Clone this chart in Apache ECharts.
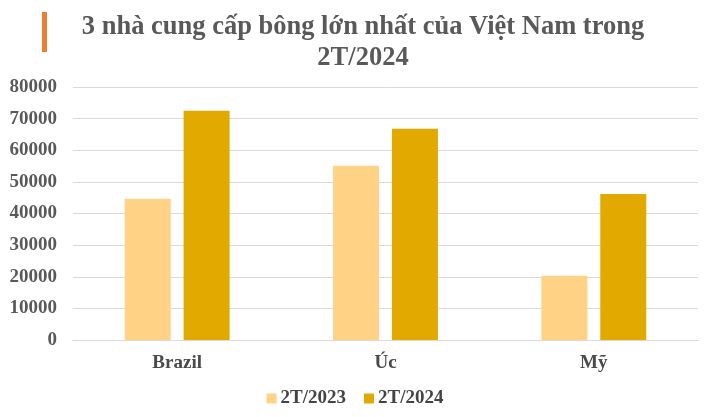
<!DOCTYPE html>
<html>
<head>
<meta charset="utf-8">
<script src="https://cdn.jsdelivr.net/npm/echarts@6/dist/echarts.min.js"></script>
<style>
  html, body { margin: 0; padding: 0; background: #fff; }
  #chart { width: 710px; height: 417px; }
</style>
</head>
<body>
<div id="chart"></div>
<script>
const categories = ["Brazil", "Úc", "Mỹ"];
const seriesNames = ["2T/2023", "2T/2024"];
const values2023 = [44700, 55100, 20300];
const values2024 = [72500, 66800, 46200];
const yTicks = { min: 0, max: 80000, interval: 10000 };

const textColor = "#595959";
const serif = "'Liberation Serif', 'Times New Roman', serif";

const chart = echarts.init(document.getElementById("chart"));
chart.setOption({
  backgroundColor: "#fff",
  animation: false,
  title: {
    text: "3 nhà cung cấp bông lớn nhất của Việt Nam trong\n2T/2024",
    left: 358,
    top: 7,
    textAlign: "center",
    textStyle: {
      fontFamily: serif,
      fontWeight: "bold",
      fontSize: 26.5,
      lineHeight: 31,
      color: textColor
    }
  },
  graphic: [
    {
      type: "rect",
      shape: { x: 42, y: 12, width: 5, height: 40 },
      style: { fill: "#ED7D31" }
    }
  ],
  legend: {
    bottom: 4,
    left: "center",
    itemWidth: 10,
    itemHeight: 10,
    itemGap: 18,
    icon: "rect",
    textStyle: {
      fontFamily: serif,
      fontWeight: "bold",
      fontSize: 19,
      color: "#444",
      padding: [0, 0, 0, -1]
    },
    data: seriesNames
  },
  grid: { left: 73, right: 12, top: 87, bottom: 77 },
  xAxis: {
    type: "category",
    data: categories,
    axisLine: { lineStyle: { color: "#d9d9d9" } },
    axisTick: { show: false },
    axisLabel: {
      margin: 14,
      fontFamily: serif,
      fontWeight: "bold",
      fontSize: 19,
      color: "#4a4a4a"
    }
  },
  yAxis: {
    type: "value",
    min: yTicks.min,
    max: yTicks.max,
    interval: yTicks.interval,
    axisLine: { show: false },
    axisTick: { show: false },
    splitLine: { lineStyle: { color: "#d9d9d9" } },
    axisLabel: {
      margin: 16,
      fontFamily: serif,
      fontWeight: "bold",
      fontSize: 19,
      color: textColor,
      formatter: (v) => String(v)
    }
  },
  series: [
    {
      name: seriesNames[0],
      type: "bar",
      data: values2023,
      barWidth: 46,
      barGap: "28%",
      itemStyle: { color: "#FFD285" }
    },
    {
      name: seriesNames[1],
      type: "bar",
      data: values2024,
      barWidth: 46,
      itemStyle: { color: "#E2AA00" }
    }
  ]
});
</script>
</body>
</html>
